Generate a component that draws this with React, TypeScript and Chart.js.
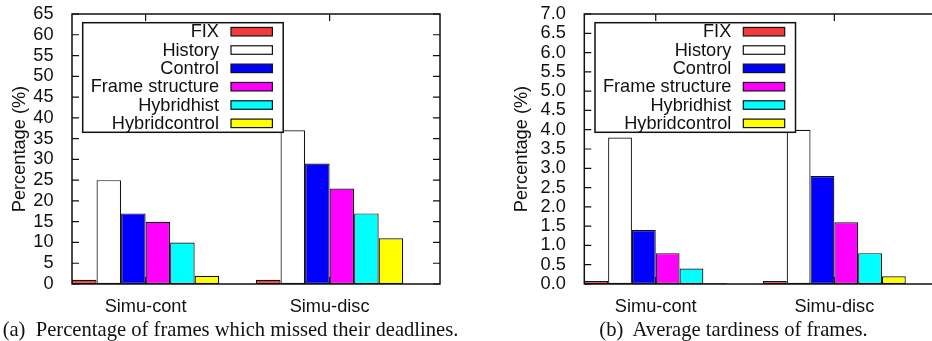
import React, { useEffect, useRef } from 'react';
import { Chart, registerables } from 'chart.js';

Chart.register(...registerables);

const FONT = "'Liberation Sans', Arial, Helvetica, sans-serif";
const SERIF = "'Liberation Serif', 'Times New Roman', Times, serif";
const FS = 18.2;

const categories = ['Simu-cont', 'Simu-disc'];
const seriesNames = ['FIX', 'History', 'Control', 'Frame structure', 'Hybridhist', 'Hybridcontrol'];
const seriesColors = ['#f23b3b', '#ffffff', '#0000ff', '#ff00ff', '#00ffff', '#ffff00'];

// (a) Percentage of frames which missed their deadlines
const missedFix = [1, 1];
const missedHistory = [25, 37];
const missedControl = [17, 29];
const missedFrameStructure = [15, 23];
const missedHybridhist = [10, 17];
const missedHybridcontrol = [2, 11];
const missedTickValues = [0, 5, 10, 15, 20, 25, 30, 35, 40, 45, 50, 55, 60, 65];

// (b) Average tardiness of frames
const tardFix = [0.08, 0.08];
const tardHistory = [3.8, 4.0];
const tardControl = [1.4, 2.8];
const tardFrameStructure = [0.8, 1.6];
const tardHybridhist = [0.4, 0.8];
const tardHybridcontrol = [0.02, 0.2];
const tardTickValues = [0, 0.5, 1, 1.5, 2, 2.5, 3, 3.5, 4, 4.5, 5, 5.5, 6, 6.5, 7];

const yTitle = 'Percentage (%)';
const captionA = '(a)  Percentage of frames which missed their deadlines.';
const captionB = '(b)  Average tardiness of frames.';

// x range in category-index units (group of 6 bars + gap, gnuplot style)
const X_MIN = -0.4;
const X_MAX = 1.6;

const framePlugin = {
  id: 'gnuFrame',
  afterDatasetsDraw(chart: any) {
    const { ctx } = chart;
    const { left, right, top, bottom } = chart.chartArea;
    const ys = chart.scales.y;
    const xs = chart.scales.x;
    ctx.save();
    ctx.strokeStyle = '#111';
    ctx.lineWidth = 1.5;
    ctx.strokeRect(left, top, right - left, bottom - top);
    ctx.lineWidth = 1.2;
    ctx.beginPath();
    ys.ticks.forEach((_t: any, i: number) => {
      const py = ys.getPixelForTick(i);
      ctx.moveTo(left, py);
      ctx.lineTo(left + 7, py);
      ctx.moveTo(right, py);
      ctx.lineTo(right - 7, py);
    });
    xs.ticks.forEach((_t: any, i: number) => {
      const px = xs.getPixelForTick(i);
      ctx.moveTo(px, top);
      ctx.lineTo(px, top + 7);
      ctx.moveTo(px, bottom);
      ctx.lineTo(px, bottom - 7);
    });
    ctx.stroke();

    // legend box
    const bx = left + 10.7;
    const by = top + 8.7;
    const bw = 200.5;
    const bh = 109.6;
    ctx.fillStyle = '#fff';
    ctx.fillRect(bx, by, bw, bh);
    ctx.lineWidth = 1.5;
    ctx.strokeStyle = '#111';
    ctx.strokeRect(bx, by, bw, bh);
    ctx.font = `${FS}px ${FONT}`;
    ctx.textAlign = 'right';
    ctx.textBaseline = 'middle';
    ctx.lineWidth = 1.2;
    chart.data.datasets.forEach((ds: any, i: number) => {
      const cy = by + 9 + i * 18.33;
      ctx.fillStyle = '#111';
      ctx.fillText(ds.label, bx + 136.3, cy + 0.5);
      ctx.fillStyle = ds.backgroundColor;
      ctx.fillRect(bx + 148.3, cy - 4.25, 41.4, 8.5);
      ctx.strokeRect(bx + 148.3, cy - 4.25, 41.4, 8.5);
    });
    ctx.restore();
  },
};

type PanelProps = {
  left: number;
  canvasWidth: number;
  axisWidth: number;
  padRight: number;
  series: number[][];
  tickValues: number[];
  decimals: number;
};

function BarPanel({ left, canvasWidth, axisWidth, padRight, series, tickValues, decimals }: PanelProps) {
  const ref = useRef<HTMLCanvasElement>(null);
  const canvasHeight = 320;
  useEffect(() => {
    if (!ref.current) return;
    const chart = new Chart(ref.current, {
      type: 'bar',
      data: {
        datasets: seriesNames.map((name, si) => ({
          label: name,
          data: categories.map((_c, ci) => ({ x: ci, y: series[si][ci] })),
          backgroundColor: seriesColors[si],
          borderColor: '#111',
          borderWidth: 1.2,
          borderSkipped: false,
          inflateAmount: 0,
          categoryPercentage: 0.8,
          barPercentage: 1.0,
        })),
      },
      options: {
        responsive: false,
        animation: false,
        devicePixelRatio: 1,
        layout: { padding: { top: 14, right: padRight, left: 0, bottom: 0 } },
        plugins: { legend: { display: false }, tooltip: { enabled: false } },
        scales: {
          x: {
            type: 'linear',
            min: X_MIN,
            max: X_MAX,
            offset: false,
            bounds: 'data',
            grid: { display: false, offset: false },
            border: { display: false },
            afterBuildTicks: (scale: any) => {
              scale.ticks = categories.map((_c, i) => ({ value: i }));
              scale.min = X_MIN;
              scale.max = X_MAX;
            },
            afterFit: (scale: any) => {
              scale.height = canvasHeight - 284;
              scale.paddingLeft = 0;
              scale.paddingRight = 0;
            },
            ticks: {
              autoSkip: false,
              maxRotation: 0,
              padding: 4,
              color: '#111',
              font: { family: FONT, size: FS },
              callback: (v: any) => categories[Number(v)] ?? '',
            },
          },
          y: {
            type: 'linear',
            min: tickValues[0],
            max: tickValues[tickValues.length - 1],
            grid: { display: false },
            border: { display: false },
            afterBuildTicks: (scale: any) => {
              scale.ticks = tickValues.map((v) => ({ value: v }));
            },
            afterFit: (scale: any) => {
              scale.width = axisWidth;
              scale.paddingTop = 0;
              scale.paddingBottom = 0;
            },
            title: {
              display: true,
              text: yTitle,
              color: '#111',
              font: { family: FONT, size: FS },
              padding: { top: 8.6, bottom: 0 },
            },
            ticks: {
              autoSkip: false,
              padding: 10.5,
              color: '#111',
              font: { family: FONT, size: FS },
              callback: (v: any) => Number(v).toFixed(decimals),
            },
          },
        },
      },
      plugins: [framePlugin],
    } as any);
    return () => chart.destroy();
  }, []);
  return (
    <div style={{ position: 'absolute', left, top: 0, width: canvasWidth, height: canvasHeight }}>
      <canvas ref={ref} width={canvasWidth} height={canvasHeight} style={{ display: 'block' }} />
    </div>
  );
}

function Caption({ center, text }: { center: number; text: string }) {
  return (
    <div
      style={{
        position: 'absolute',
        left: center - 300,
        top: 318.5,
        width: 600,
        textAlign: 'center',
        fontFamily: SERIF,
        fontSize: 20.6,
        lineHeight: '20px',
        whiteSpace: 'pre',
        color: '#111',
      }}
    >
      {text}
    </div>
  );
}

export default function App() {
  const missed = [missedFix, missedHistory, missedControl, missedFrameStructure, missedHybridhist, missedHybridcontrol];
  const tard = [tardFix, tardHistory, tardControl, tardFrameStructure, tardHybridhist, tardHybridcontrol];
  return (
    <div
      style={{
        position: 'fixed',
        left: 0,
        top: 0,
        width: 932,
        height: 341,
        overflow: 'hidden',
        background: '#fff',
      }}
    >
      <BarPanel left={0} canvasWidth={460} axisWidth={72} padRight={20} series={missed} tickValues={missedTickValues} decimals={0} />
      <BarPanel left={502} canvasWidth={450} axisWidth={82.3} padRight={10.5} series={tard} tickValues={tardTickValues} decimals={1} />
      <Caption center={230.5} text={captionA} />
      <Caption center={733.5} text={captionB} />
    </div>
  );
}
